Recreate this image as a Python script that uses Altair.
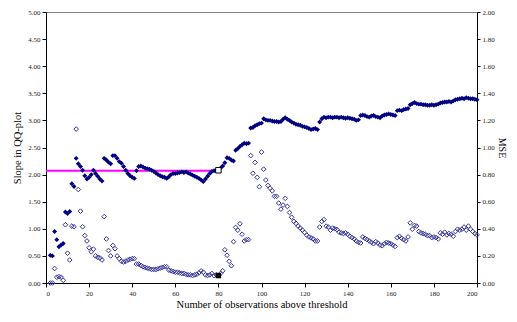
import altair as alt
import pandas as pd

# ---- data ----
n_obs = list(range(2, 201))

slope = [
    0.51, 0.50, 0.95, 0.80, 0.67, 0.70, 0.73, 1.31, 1.28, 1.32,
    1.83, 1.78, 2.30, 2.20, 2.15, 2.08, 1.98, 1.92, 1.95, 2.00,
    2.08, 2.02, 1.97, 1.92, 1.88, 2.30, 2.27, 2.23, 2.20, 2.35,
    2.35, 2.30, 2.24, 2.21, 2.15, 2.08, 2.02, 1.98, 1.95, 1.93,
    2.07, 2.15, 2.16, 2.14, 2.12, 2.11, 2.10, 2.08, 2.06, 2.03,
    2.00, 1.98, 1.96, 1.95, 1.93, 1.96, 2.00, 2.02, 2.02, 2.03,
    2.04, 2.05, 2.04, 2.05, 2.03, 2.01, 1.99, 1.97, 1.95, 1.93,
    1.90, 1.87, 1.92, 1.97, 2.02, 2.06, 2.07, 2.07, 2.09, 2.12,
    2.16, 2.22, 2.31, 2.30, 2.27, 2.25, 2.45, 2.48, 2.52, 2.55,
    2.58, 2.57, 2.58, 2.86, 2.87, 2.90, 2.92, 2.94, 2.95, 3.03,
    3.01, 3.00, 3.00, 2.99, 2.98, 2.98, 2.97, 2.98, 3.02, 3.05,
    3.02, 3.00, 2.97, 2.95, 2.93, 2.92, 2.91, 2.89, 2.88, 2.87,
    2.85, 2.83, 2.84, 2.85, 2.83, 2.97, 3.03, 3.06, 3.05, 3.06,
    3.06, 3.05, 3.06, 3.06, 3.05, 3.06, 3.05, 3.04, 3.05, 3.04,
    3.03, 3.02, 3.00, 3.01, 3.09, 3.10, 3.09, 3.07, 3.06, 3.08,
    3.09, 3.07, 3.06, 3.05, 3.08, 3.10, 3.11, 3.12, 3.11, 3.10,
    3.09, 3.18, 3.19, 3.18, 3.20, 3.21, 3.22, 3.29, 3.31, 3.33,
    3.31, 3.30, 3.30, 3.29, 3.29, 3.28, 3.28, 3.29, 3.28, 3.29,
    3.30, 3.32, 3.33, 3.34, 3.34, 3.35, 3.34, 3.36, 3.38, 3.39,
    3.40, 3.41, 3.40, 3.42, 3.41, 3.40, 3.40, 3.39, 3.38,
]

mse = [
    0.0, 0.0, 0.107, 0.043, 0.047, 0.043, 0.02, 0.43, 0.22, 0.17,
    0.42, 0.415, 1.136, 0.69, 0.53, 0.415, 0.35, 0.31, 0.26, 0.23,
    0.25, 0.20, 0.19, 0.185, 0.17, 0.49, 0.325, 0.24, 0.20, 0.277,
    0.253, 0.20, 0.18, 0.16, 0.155, 0.16, 0.17, 0.175, 0.18, 0.18,
    0.14, 0.14, 0.13, 0.12, 0.115, 0.11, 0.105, 0.10, 0.10, 0.10,
    0.105, 0.11, 0.115, 0.12, 0.12, 0.095, 0.09, 0.085, 0.08, 0.08,
    0.075, 0.07, 0.07, 0.065, 0.06, 0.06, 0.055, 0.06, 0.065, 0.075,
    0.09, 0.08, 0.06, 0.055, 0.06, 0.07, 0.055, 0.06, 0.055, 0.07,
    0.09, 0.245, 0.205, 0.16, 0.127, 0.305, 0.41, 0.39, 0.437, 0.36,
    0.31, 0.32, 0.32, 0.94, 0.81, 0.89, 0.78, 0.71, 0.966, 0.84,
    0.76, 0.72, 0.70, 0.68, 0.64, 0.64, 0.59, 0.545, 0.575, 0.625,
    0.565, 0.52, 0.485, 0.455, 0.44, 0.42, 0.405, 0.39, 0.373, 0.353,
    0.34, 0.333, 0.325, 0.31, 0.31, 0.413, 0.454, 0.468, 0.42, 0.413,
    0.39, 0.405, 0.40, 0.395, 0.375, 0.37, 0.365, 0.37, 0.36, 0.345,
    0.335, 0.325, 0.31, 0.30, 0.295, 0.34, 0.33, 0.32, 0.31, 0.30,
    0.29, 0.305, 0.295, 0.28, 0.275, 0.29, 0.30, 0.295, 0.29, 0.28,
    0.27, 0.335, 0.345, 0.33, 0.32, 0.31, 0.34, 0.444, 0.397, 0.425,
    0.42, 0.38, 0.37, 0.365, 0.36, 0.35, 0.35, 0.335, 0.34, 0.335,
    0.325, 0.37, 0.36, 0.375, 0.355, 0.365, 0.36, 0.345, 0.38, 0.397,
    0.39, 0.397, 0.413, 0.39, 0.42, 0.397, 0.38, 0.365, 0.355,
]

# reference (magenta) line
ref_n = [0, 80]
ref_slope = [2.07, 2.07]

# highlighted threshold point
hl_n = [80]
hl_slope = [2.08]
hl_mse = [0.055]

x_ticks = list(range(0, 201, 20))
left_ticks = [i * 0.5 for i in range(11)]
right_ticks = [round(i * 0.2, 1) for i in range(11)]

SERIF = "Liberation Serif"

df = pd.DataFrame({"n": n_obs, "slope": slope, "mse": mse})
df_ref = pd.DataFrame({"n": ref_n, "slope": ref_slope})
df_hl = pd.DataFrame({"n": hl_n, "slope": hl_slope, "mse": hl_mse})

xscale = alt.Scale(domain=[0, 200], nice=False, zero=False)
lscale = alt.Scale(domain=[0, 5], nice=False)
rscale = alt.Scale(domain=[0, 2], nice=False)

common_axis = dict(
    grid=False, domainColor="black", tickColor="black",
    labelFont=SERIF, labelFontSize=7, labelColor="#222222",
    titleFont=SERIF, titleFontWeight="normal", titleColor="black",
)

x_enc = alt.X("n:Q", scale=xscale,
              axis=alt.Axis(values=x_ticks, format="d",
                            title="Number of observations above threshold",
                            titleFontSize=10.5, titlePadding=3,
                            tickSize=4, labelPadding=2, **common_axis))
left_axis = alt.Axis(values=left_ticks, format=".2f", orient="left",
                     title="Slope in QQ-plot", titleFontSize=10.5,
                     titlePadding=5, tickSize=4, labelPadding=2,
                     **common_axis)
right_axis = alt.Axis(values=right_ticks, format=".2f", orient="right",
                      title="MSE", titleFontSize=10, titlePadding=2,
                      tickSize=3, labelPadding=2, **common_axis)

ref_line = alt.Chart(df_ref).mark_line(color="#FF00FF", strokeWidth=2).encode(
    x=x_enc, y=alt.Y("slope:Q", scale=lscale, axis=left_axis))
slope_pts = alt.Chart(df).mark_point(
    shape="diamond", filled=True, color="#000080", size=24, opacity=1
).encode(x=x_enc, y=alt.Y("slope:Q", scale=lscale, axis=left_axis))
hl_slope_pt = alt.Chart(df_hl).mark_point(
    shape="square", filled=True, fill="white", stroke="black", strokeWidth=1,
    size=30, opacity=1
).encode(x=x_enc, y=alt.Y("slope:Q", scale=lscale, axis=left_axis))

mse_pts = alt.Chart(df).mark_point(
    shape="diamond", filled=False, color="#333399", size=22, strokeWidth=1,
    opacity=1
).encode(x=x_enc, y=alt.Y("mse:Q", scale=rscale, axis=right_axis))
hl_mse_pt = alt.Chart(df_hl).mark_point(
    shape="square", filled=True, color="black", size=30, opacity=1
).encode(x=x_enc, y=alt.Y("mse:Q", scale=rscale, axis=right_axis))

left = alt.layer(ref_line, slope_pts, hl_slope_pt)
right = alt.layer(mse_pts, hl_mse_pt)

chart = alt.layer(left, right).resolve_scale(y="independent").properties(
    width=431, height=271,
    padding={"left": 38, "top": 4, "right": 31, "bottom": 26},
    autosize=alt.AutoSizeParams(type="none"),
    background="white",
).configure_view(stroke="#808080", strokeWidth=1)

chart.save("out.html", embed_options={"renderer": "svg", "actions": False})
